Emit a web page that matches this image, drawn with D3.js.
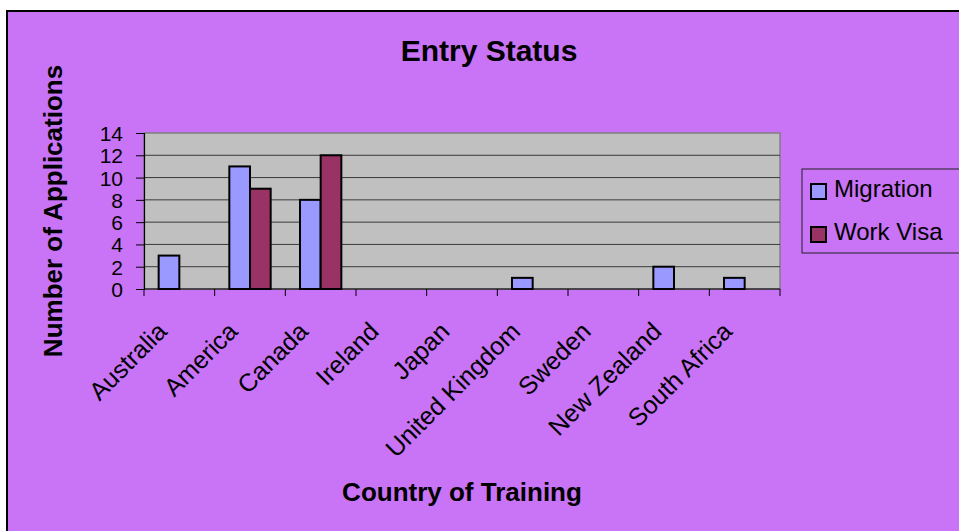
<!DOCTYPE html>
<html>
<head>
<meta charset="utf-8">
<script src="https://cdn.jsdelivr.net/npm/d3@7"></script>
<style>
  body { margin: 0; background: #fff; }
  svg text { font-family: Arial, "Liberation Sans", sans-serif; fill: #000; }
</style>
</head>
<body>
<svg id="chart" width="959" height="531"></svg>
<script>
// chart data
const countries = ["Australia", "America", "Canada", "Ireland", "Japan", "United Kingdom", "Sweden", "New Zealand", "South Africa"];
const seriesNames = ["Migration", "Work Visa"];
const migration = [3, 11, 8, 0, 0, 1, 0, 2, 1];
const workVisa = [0, 9, 12, 0, 0, 0, 0, 0, 0];
const yTicks = [0, 2, 4, 6, 8, 10, 12, 14];
const colors = ["#9999FF", "#993366"];

const svg = d3.select("#chart");

// chart area background + border
svg.append("rect")
    .attr("x", 7).attr("y", 11)
    .attr("width", 1000).attr("height", 600)
    .attr("fill", "#C973F6")
    .attr("stroke", "#000")
    .attr("stroke-width", 2);

const plot = {left: 144, top: 133, right: 780, bottom: 289};

const x0 = d3.scaleBand()
    .domain(countries)
    .range([plot.left, plot.right])
    .paddingInner(0.415)
    .paddingOuter(0.2075);
const x1 = d3.scaleBand()
    .domain(seriesNames)
    .range([0, x0.bandwidth()]);
const y = d3.scaleLinear()
    .domain([0, 14])
    .range([plot.bottom, plot.top]);

// plot area
svg.append("rect")
    .attr("x", plot.left).attr("y", plot.top)
    .attr("width", plot.right - plot.left)
    .attr("height", plot.bottom - plot.top)
    .attr("fill", "#C0C0C0")
    .attr("stroke", "#808080")
    .attr("stroke-width", 1.5);

// gridlines
svg.append("g")
    .selectAll("line")
    .data(yTicks.filter(d => d > 0 && d < 14))
    .enter()
    .append("line")
    .attr("x1", plot.left).attr("x2", plot.right)
    .attr("y1", d => y(d)).attr("y2", d => y(d))
    .attr("stroke", "#3a3a3a")
    .attr("stroke-width", 1);

// bars
const rows = countries.map((c, i) => ({country: c, values: [migration[i], workVisa[i]]}));
const groups = svg.append("g")
    .selectAll("g")
    .data(rows)
    .enter()
    .append("g")
    .attr("transform", d => "translate(" + x0(d.country) + ",0)");
groups.selectAll("rect")
    .data(d => d.values.map((v, j) => ({name: seriesNames[j], value: v, j: j})).filter(e => e.value > 0))
    .enter()
    .append("rect")
    .attr("x", d => x1(d.name))
    .attr("y", d => y(d.value))
    .attr("width", x1.bandwidth())
    .attr("height", d => plot.bottom - y(d.value))
    .attr("fill", d => colors[d.j])
    .attr("stroke", "#000")
    .attr("stroke-width", 2);

// y axis
const yAxis = d3.axisLeft(y)
    .tickValues(yTicks)
    .tickSize(8)
    .tickPadding(13);
const gy = svg.append("g")
    .attr("transform", "translate(" + plot.left + ",0)")
    .call(yAxis);
gy.select(".domain").attr("stroke", "#000").attr("stroke-width", 1.2);
gy.selectAll(".tick line").attr("stroke", "#000");
gy.selectAll(".tick text")
    .attr("font-size", "21px")
    .attr("font-family", "Arial, 'Liberation Sans', sans-serif")
    .attr("dy", "0.36em");

// x axis (ticks on category boundaries)
const boundaries = d3.range(countries.length + 1).map(i => plot.left + i * x0.step());
svg.append("line")
    .attr("x1", plot.left).attr("x2", plot.right)
    .attr("y1", plot.bottom).attr("y2", plot.bottom)
    .attr("stroke", "#000").attr("stroke-width", 1.2);
svg.append("g")
    .selectAll("line")
    .data(boundaries)
    .enter()
    .append("line")
    .attr("x1", d => d).attr("x2", d => d)
    .attr("y1", plot.bottom).attr("y2", plot.bottom + 7)
    .attr("stroke", "#000");

svg.append("g")
    .selectAll("text")
    .data(countries)
    .enter()
    .append("text")
    .attr("transform", d => "translate(" + (x0(d) + x0.bandwidth() / 2 - 11) + "," + 333 + ") rotate(-45)")
    .attr("text-anchor", "end")
    .attr("font-size", "25px")
    .text(d => d);

// titles
svg.append("text")
    .attr("x", 489).attr("y", 61)
    .attr("text-anchor", "middle")
    .attr("font-size", "30px")
    .attr("font-weight", "bold")
    .text("Entry Status");

svg.append("text")
    .attr("x", 462).attr("y", 501)
    .attr("text-anchor", "middle")
    .attr("font-size", "26px")
    .attr("font-weight", "bold")
    .text("Country of Training");

svg.append("text")
    .attr("transform", "translate(62," + ((plot.top + plot.bottom) / 2) + ") rotate(-90)")
    .attr("text-anchor", "middle")
    .attr("font-size", "26px")
    .attr("font-weight", "bold")
    .text("Number of Applications");

// legend
const legend = svg.append("g");
legend.append("rect")
    .attr("x", 802).attr("y", 169)
    .attr("width", 200).attr("height", 84)
    .attr("fill", "none")
    .attr("stroke", "#222")
    .attr("stroke-width", 1);
const items = legend.selectAll("g.item")
    .data(seriesNames)
    .enter()
    .append("g")
    .attr("class", "item")
    .attr("transform", (d, i) => "translate(811," + (184 + i * 43) + ")");
items.append("rect")
    .attr("width", 15).attr("height", 15)
    .attr("fill", (d, i) => colors[i])
    .attr("stroke", "#000")
    .attr("stroke-width", 2);
items.append("text")
    .attr("x", 23).attr("y", 13)
    .attr("font-size", "24px")
    .text(d => d);
</script>
</body>
</html>
